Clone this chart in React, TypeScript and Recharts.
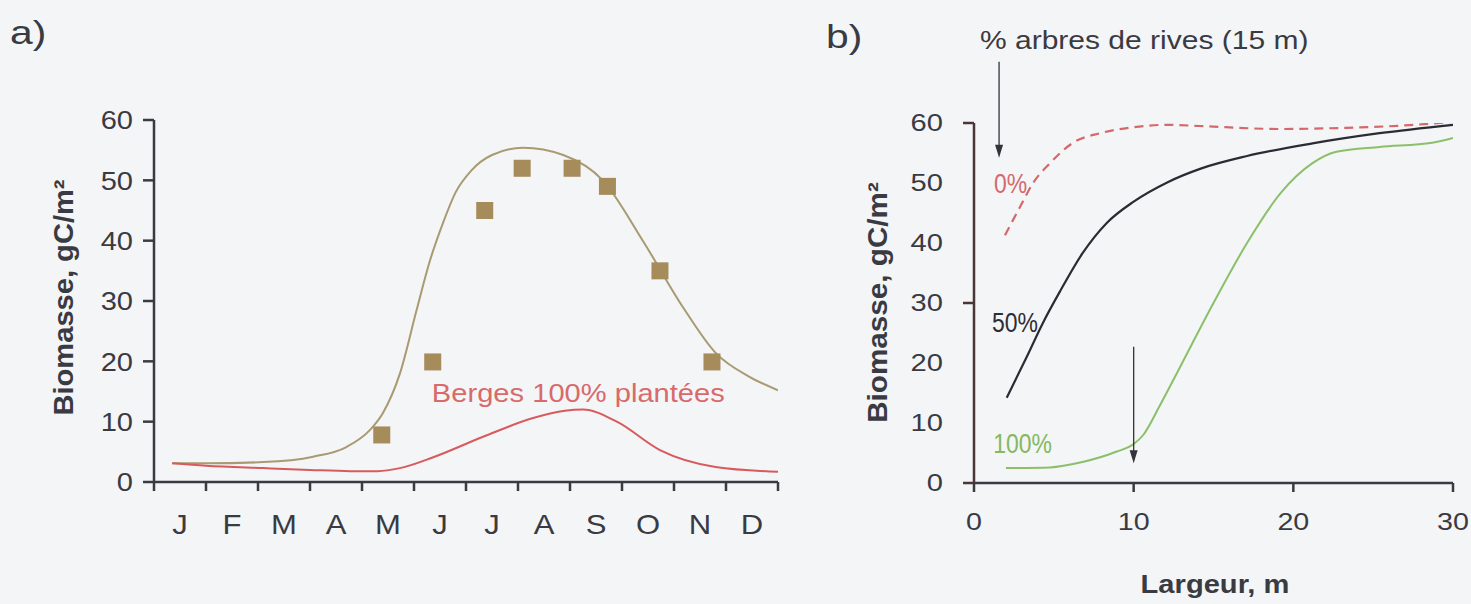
import React from 'react';
import { ComposedChart, Line, Scatter, XAxis, YAxis, ReferenceLine, ReferenceDot } from 'recharts';

// a) seasonal biomass
const MONTHS = ['J', 'F', 'M', 'A', 'M', 'J', 'J', 'A', 'S', 'O', 'N', 'D'];
const MONTH_TICKS = [0, 1, 2, 3, 4, 5, 6, 7, 8, 9, 10, 11, 12];
const BIO_TICKS = [0, 10, 20, 30, 40, 50, 60];

const MODEL_CURVE = [
  { m: 0.35, v: 3.1 }, { m: 1.0, v: 3.1 }, { m: 2.1, v: 3.3 }, { m: 3.06, v: 4.2 },
  { m: 3.7, v: 5.8 }, { m: 4.15, v: 8.6 }, { m: 4.4, v: 11.4 }, { m: 4.73, v: 18 },
  { m: 5.05, v: 28.5 }, { m: 5.3, v: 36.5 }, { m: 5.56, v: 43 }, { m: 5.8, v: 48 },
  { m: 6.1, v: 51.6 }, { m: 6.5, v: 54.2 }, { m: 7.1, v: 55.4 }, { m: 7.87, v: 54.2 },
  { m: 8.63, v: 50 }, { m: 9.4, v: 40 }, { m: 10.17, v: 29 }, { m: 10.8, v: 21.4 },
  { m: 11.46, v: 17.4 }, { m: 12, v: 15.2 },
];

const PLANTED_CURVE = [
  { m: 0.35, v: 3.1 }, { m: 1.0, v: 2.7 }, { m: 2.1, v: 2.3 }, { m: 3.0, v: 2.0 },
  { m: 3.77, v: 1.8 }, { m: 4.3, v: 1.8 }, { m: 4.73, v: 2.3 }, { m: 5.37, v: 4.1 },
  { m: 6.33, v: 7.5 }, { m: 7.29, v: 10.6 }, { m: 7.9, v: 11.8 }, { m: 8.25, v: 12 },
  { m: 8.9, v: 10 }, { m: 9.73, v: 5.3 }, { m: 10.8, v: 2.5 }, { m: 12, v: 1.7 },
];

const MEASURED = [
  { m: 4.38, v: 7.8 }, { m: 5.36, v: 19.9 }, { m: 6.36, v: 45 }, { m: 7.08, v: 52 },
  { m: 8.04, v: 52 }, { m: 8.72, v: 49 }, { m: 9.73, v: 35 }, { m: 10.73, v: 19.9 },
];

// b) biomass vs stream width
const WIDTH_TICKS = [0, 10, 20, 30];
const MARKED_Y = [0, 30, 60];

const TREES_0 = [
  { x: 1.94, v: 41.3 }, { x: 2.88, v: 46 }, { x: 3.7, v: 50 }, { x: 4.76, v: 53.3 },
  { x: 6.2, v: 56.7 }, { x: 7.9, v: 58.3 }, { x: 10, v: 59.3 }, { x: 12.1, v: 59.7 },
  { x: 14.1, v: 59.5 }, { x: 19.2, v: 59.0 }, { x: 23.3, v: 59.2 }, { x: 27, v: 59.6 },
  { x: 30, v: 60.2 },
];

const TREES_50 = [
  { x: 2.05, v: 14.2 }, { x: 3.3, v: 21 }, { x: 4.3, v: 26.6 }, { x: 5.4, v: 32 },
  { x: 6.8, v: 38.3 }, { x: 8.3, v: 43.3 }, { x: 10, v: 46.9 }, { x: 12.1, v: 50.1 },
  { x: 14.2, v: 52.4 }, { x: 17.1, v: 54.5 }, { x: 21.2, v: 56.6 }, { x: 25.4, v: 58.3 },
  { x: 30, v: 59.7 },
];

const TREES_100 = [
  { x: 2.0, v: 2.5 }, { x: 4.76, v: 2.6 }, { x: 6.8, v: 3.5 }, { x: 8.9, v: 5.2 },
  { x: 10, v: 6.5 }, { x: 10.6, v: 8 }, { x: 11.6, v: 12.7 }, { x: 12.9, v: 19.3 },
  { x: 15, v: 30 }, { x: 17.1, v: 40 }, { x: 19.2, v: 48.3 }, { x: 21.2, v: 53.3 },
  { x: 22.7, v: 55.2 }, { x: 25.4, v: 56 }, { x: 28.7, v: 56.7 }, { x: 30, v: 57.5 },
];

const INK = '#3a3a42';
const FONT = '"Liberation Sans", Arial, Helvetica, sans-serif';
const BG = '#f3f5f7';

// text drawn a bit wider than the font, like the scanned figure
const WideText = ({ x, y, sx = 1.17, anchor = 'middle', size, fill = INK, weight = 400, dy = '0', rotate = 0, children }: any) => (
  <g transform={`translate(${x},${y}) rotate(${rotate}) scale(${sx},1)`}>
    <text x={0} y={0} dy={dy} textAnchor={anchor} fontSize={size} fontWeight={weight} fill={fill} fontFamily={FONT}>
      {children}
    </text>
  </g>
);

const MonthTick = ({ x, y, payload }: any) =>
  payload.value < 12 ? (
    <WideText x={x + 26} y={y} size={27} sx={1.15} dy="0.72em">{MONTHS[payload.value]}</WideText>
  ) : <g />;

const LeftYTick = ({ x, y, payload }: any) => (
  <WideText x={x} y={y} size={25.5} sx={1.14} anchor="end" dy="0.36em">{payload.value}</WideText>
);

const RightYTick = ({ x, y, payload }: any) => (
  <g>
    {MARKED_Y.includes(payload.value) && (
      <line x1={x + 20} x2={x + 31} y1={y} y2={y} stroke="#4a3636" strokeWidth={2.5} />
    )}
    <WideText x={x} y={y} size={23.5} sx={1.24} anchor="end" dy="0.36em">{payload.value}</WideText>
  </g>
);

const RightXTick = ({ x, y, payload }: any) => (
  <WideText x={x} y={y} size={23.5} sx={1.22} dy="0.72em">{payload.value}</WideText>
);

const Square = (p: any) => <rect x={p.cx - 8.5} y={p.cy - 8.5} width={17} height={17} fill="#a68b5b" />;

const Arrow = (p: any) => (
  <g>
    <line x1={p.x1} y1={p.y1} x2={p.x2} y2={p.y2 - 6} stroke="#333338" strokeWidth={1.3} />
    <polygon points={`${p.x2},${p.y2} ${p.x2 - 4},${p.y2 - 13} ${p.x2 + 4},${p.y2 - 13}`} fill="#333338" />
  </g>
);

const pctLabel = (text: string, fill: string) => ({ viewBox }: any) => (
  <WideText x={viewBox.x + viewBox.width / 2} y={viewBox.y + viewBox.height / 2} size={28} sx={0.82} fill={fill} dy="0.36em">
    {text}
  </WideText>
);

const plantedLabel = ({ viewBox }: any) => (
  <WideText x={viewBox.x + viewBox.width / 2} y={viewBox.y + viewBox.height / 2} size={26} sx={1.12} fill="#d86a6a" dy="0.36em">
    Berges 100% plantées
  </WideText>
);

const axisStyle = { stroke: INK, strokeWidth: 2.5 };

export default function App() {
  return (
    <div style={{ position: 'absolute', left: 0, top: 0, width: 1471, height: 604, background: BG, overflow: 'hidden' }}>
      <div style={{ position: 'absolute', left: 0, top: 0 }}>
        <ComposedChart width={800} height={604} margin={{ top: 120, right: 22, bottom: 62, left: 74 }}>
          <XAxis
            dataKey="m" type="number" domain={[0, 12]} ticks={MONTH_TICKS} interval={0} allowDataOverflow
            height={60} tickSize={9} tickMargin={24} axisLine={axisStyle} tickLine={axisStyle} tick={MonthTick}
          />
          <YAxis
            dataKey="v" type="number" domain={[0, 60]} ticks={BIO_TICKS} interval={0} allowDataOverflow
            width={80} tickSize={11} tickMargin={10} axisLine={axisStyle} tickLine={axisStyle} tick={LeftYTick}
          />
          <Line data={MODEL_CURVE} dataKey="v" type="monotone" stroke="#a89a72" strokeWidth={2} dot={false} isAnimationActive={false} />
          <Line data={PLANTED_CURVE} dataKey="v" type="monotone" stroke="#d85a5c" strokeWidth={2} dot={false} isAnimationActive={false} />
          <Scatter data={MEASURED} dataKey="v" shape={Square} isAnimationActive={false} />
          <ReferenceDot x={8.16} y={14.8} r={1} fill="none" stroke="none" label={plantedLabel} />
        </ComposedChart>
      </div>

      <div style={{ position: 'absolute', left: 800, top: 0 }}>
        <ComposedChart width={671} height={604} margin={{ top: 123, right: 18, bottom: 61, left: 94 }}>
          <XAxis
            dataKey="x" type="number" domain={[0, 30]} ticks={WIDTH_TICKS} interval={0} allowDataOverflow
            height={60} tickSize={9} tickMargin={21} axisLine={axisStyle} tickLine={axisStyle} tick={RightXTick}
          />
          <YAxis
            dataKey="v" type="number" domain={[0, 60]} ticks={BIO_TICKS} interval={0} allowDataOverflow
            width={80} tickSize={11} tickMargin={20} axisLine={{ stroke: '#4a3636', strokeWidth: 2.5 }} tickLine={false} tick={RightYTick}
          />
          <Line data={TREES_0} dataKey="v" type="monotone" stroke="#d4686b" strokeWidth={2.2} strokeDasharray="9 6" dot={false} isAnimationActive={false} />
          <Line data={TREES_50} dataKey="v" type="monotone" stroke="#2b2b33" strokeWidth={2.2} dot={false} isAnimationActive={false} />
          <Line data={TREES_100} dataKey="v" type="monotone" stroke="#8cbf6a" strokeWidth={2} dot={false} isAnimationActive={false} />
          <ReferenceLine segment={[{ x: 1.57, y: 70.2 }, { x: 1.57, y: 54.2 }]} ifOverflow="visible" shape={Arrow} />
          <ReferenceLine segment={[{ x: 10, y: 22.7 }, { x: 10, y: 3.3 }]} ifOverflow="visible" shape={Arrow} />
          <ReferenceDot x={2.29} y={50} r={1} fill="none" stroke="none" label={pctLabel('0%', '#d46a6e')} />
          <ReferenceDot x={2.57} y={26.8} r={1} fill="none" stroke="none" label={pctLabel('50%', '#2d2d35')} />
          <ReferenceDot x={3.04} y={6.7} r={1} fill="none" stroke="none" label={pctLabel('100%', '#85b860')} />
        </ComposedChart>
      </div>

      <svg width={1471} height={604} style={{ position: 'absolute', left: 0, top: 0, pointerEvents: 'none' }}>
        <WideText x={10} y={44} size={34} sx={1.2} anchor="start">a)</WideText>
        <WideText x={826} y={48} size={34} sx={1.2} anchor="start">b)</WideText>
        <WideText x={980} y={49} size={25} sx={1.2} anchor="start">% arbres de rives (15 m)</WideText>
        <WideText x={73} y={297.5} size={28} sx={1.04} weight={700} rotate={-90}>Biomasse, gC/m²</WideText>
        <WideText x={887} y={302.5} size={28} sx={1.06} weight={700} rotate={-90}>Biomasse, gC/m²</WideText>
        <WideText x={1215} y={593} size={26} sx={1.12} weight={700}>Largeur, m</WideText>
      </svg>
    </div>
  );
}
